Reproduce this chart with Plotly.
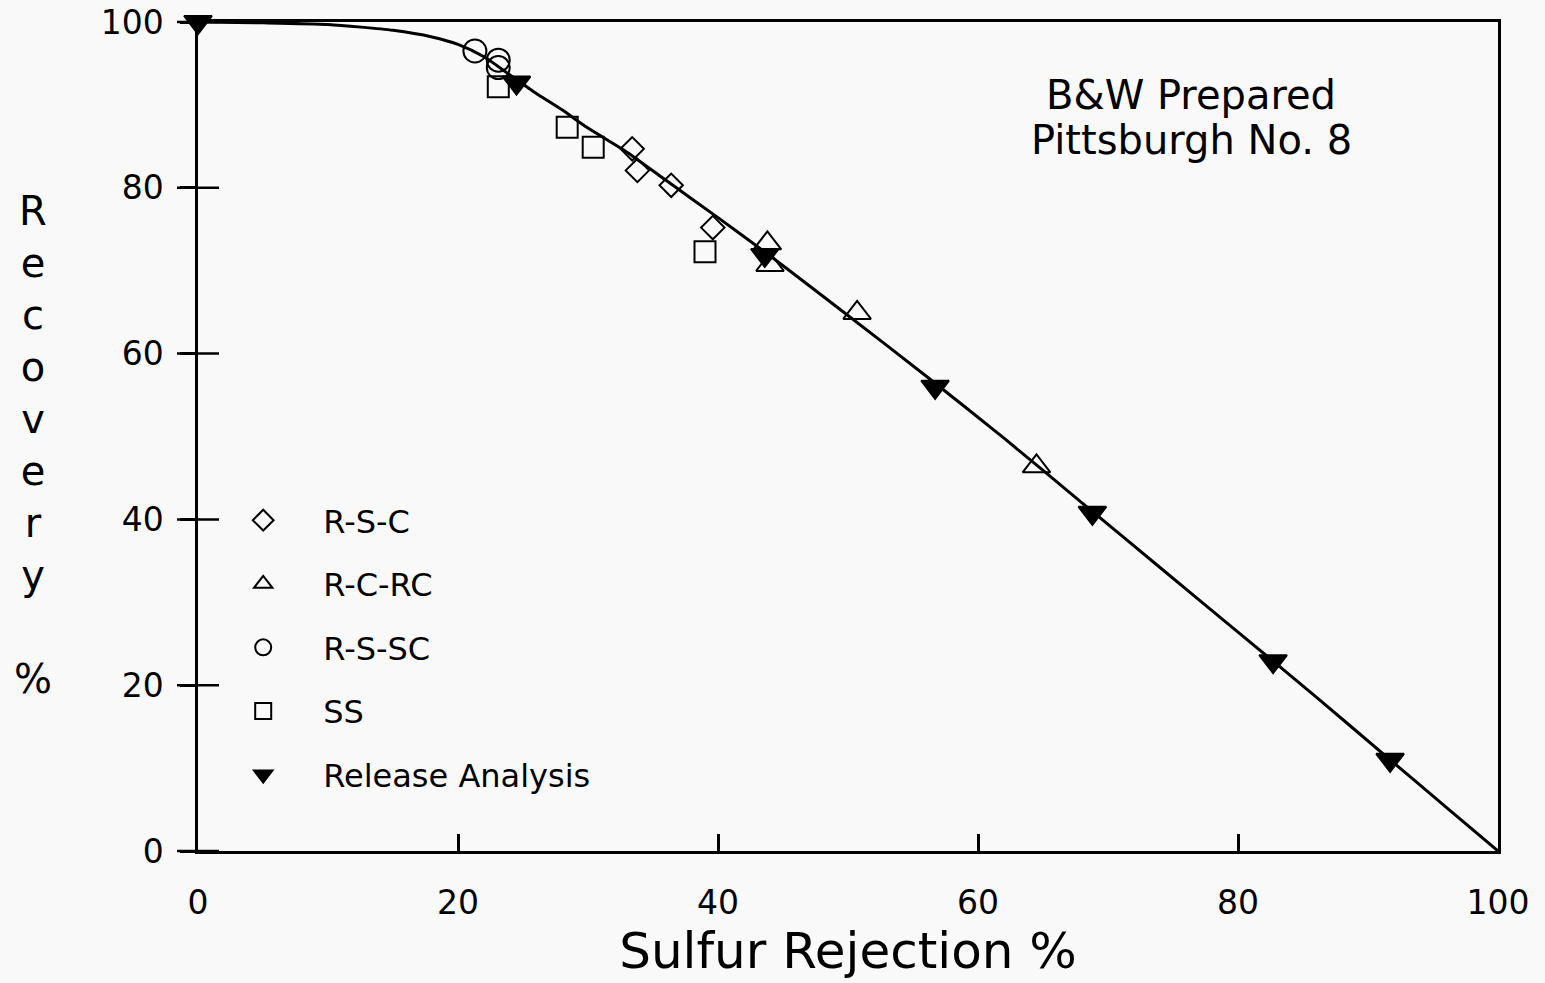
import plotly.graph_objects as go

# ---- data ----
curve_x = [0, 5, 10, 15, 18, 20, 22, 24, 26, 28, 30, 33, 36, 40, 44, 50, 56, 62, 68, 74, 80, 86, 92, 96, 100]
curve_y = [100, 99.9, 99.7, 99.0, 98.2, 97.3, 95.8, 93.6, 91.4, 89.4, 87.2, 84.3, 80.9, 76.4, 71.8, 64.6, 57.3, 49.8, 42.0, 34.2, 26.4, 18.6, 10.6, 5.3, 0]

rsc_x = [33.4, 33.8, 36.4, 39.6]
rsc_y = [84.7, 82.1, 80.3, 75.2]

rcrc_x = [43.8, 44.0, 50.7, 64.5]
rcrc_y = [73.3, 70.7, 64.9, 46.4]

rssc_x = [21.3, 23.1, 23.1]
rssc_y = [96.5, 95.4, 94.5]

ss_x = [23.1, 28.4, 30.4, 39.0]
ss_y = [92.2, 87.3, 84.9, 72.3]

rel_x = [0, 24.5, 43.6, 56.7, 68.8, 82.7, 91.7]
rel_y = [100, 92.7, 71.9, 56.0, 40.8, 22.9, 11.0]

tick_vals = [0, 20, 40, 60, 80, 100]
tick_text = ["0", "20", "40", "60", "80", "100"]

FONT = "DejaVu Sans, Liberation Sans, Arial, sans-serif"
BG = "#f9f9f9"

fig = go.Figure()

fig.add_trace(go.Scatter(x=curve_x, y=curve_y, mode="lines",
                         line=dict(color="black", width=3, shape="spline", smoothing=0.6),
                         showlegend=False, hoverinfo="skip"))

def add_markers(x, y, name, symbol, size, grp):
    fig.add_trace(go.Scatter(
        x=x, y=y, mode="markers", name=name, legendgroup=grp,
        marker=dict(symbol=symbol, size=size, color="black",
                    line=dict(color="black", width=2)),
        cliponaxis=False))

add_markers(rsc_x, rsc_y, "R-S-C", "diamond-open", 18, "a")
add_markers(rcrc_x, rcrc_y, "R-C-RC", "triangle-up-open", 24, "b")
add_markers(rssc_x, rssc_y, "R-S-SC", "circle-open", 23, "c")
add_markers(ss_x, ss_y, "SS", "square-open", 21, "d")
add_markers(rel_x, rel_y, "Release Analysis", "triangle-down", 24, "e")

# crossing y-axis ticks: short horizontal dashes centred on the axis at each y tick value
fig.add_trace(go.Scatter(x=[tick_vals[0]] * len(tick_vals), y=tick_vals, mode="markers",
                         marker=dict(symbol="line-ew-open", size=30, color="black",
                                     line=dict(color="black", width=2.5)),
                         cliponaxis=False, showlegend=False, hoverinfo="skip"))

fig.update_layout(
    width=1545, height=983,
    margin=dict(l=198, r=47, t=22, b=132, autoexpand=False),
    paper_bgcolor=BG, plot_bgcolor=BG,
    font=dict(family=FONT, color="black"),
    xaxis=dict(range=[0, 100], tickvals=tick_vals, ticktext=tick_text,
               ticks="inside", ticklen=17, tickwidth=2.5, tickcolor="black",
               showline=True, linewidth=2.5, linecolor="black", mirror=True,
               showgrid=False, zeroline=False, automargin=False,
               tickfont=dict(size=33, family=FONT), ticklabelstandoff=21,
               title=dict(text="Sulfur Rejection %", font=dict(size=50, family=FONT), standoff=10)),
    yaxis=dict(range=[0, 100], tickvals=tick_vals, ticktext=tick_text,
               ticks="outside", ticklen=15, tickwidth=2.5, tickcolor="black",
               showline=True, linewidth=2.5, linecolor="black", mirror=True,
               showgrid=False, zeroline=False, automargin=False,
               tickfont=dict(size=33, family=FONT), ticklabelstandoff=10),
    legend=dict(x=0.004, y=0.432, xanchor="left", yanchor="top",
                bgcolor="rgba(0,0,0,0)", font=dict(size=32, family=FONT),
                itemwidth=110, tracegroupgap=19),
    showlegend=True,
)

fig.add_annotation(xref="x", yref="y", x=76.4, y=91.2,
                   text="B&W Prepared", showarrow=False,
                   font=dict(size=40, family=FONT), align="center")
fig.add_annotation(xref="x", yref="y", x=76.4, y=85.8,
                   text="Pittsburgh No. 8", showarrow=False,
                   font=dict(size=40, family=FONT), align="center")

fig.add_annotation(xref="paper", yref="paper", x=-0.143, y=0.49,
                   text="R<br>e<br>c<br>o<br>v<br>e<br>r<br>y<br><br>%",
                   showarrow=False, font=dict(size=40, family=FONT), align="center")

fig.write_html("out.html")
